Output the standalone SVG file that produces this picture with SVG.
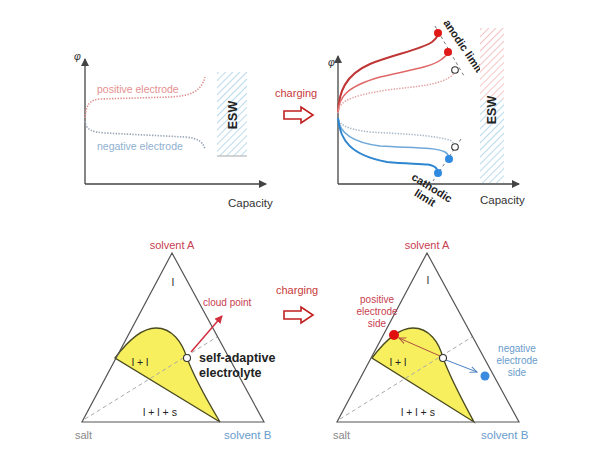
<svg xmlns="http://www.w3.org/2000/svg" width="595" height="451" viewBox="0 0 595 451">
<defs>
<style>
text{font-family:"Liberation Sans",Arial,sans-serif}
.ax{stroke:#444;stroke-width:1.3;fill:none}
.lab{font-size:11.5px;fill:#333}
.esw{font-size:12.5px;font-weight:bold;fill:#222}
.tri{stroke:#555;stroke-width:1.2;fill:none}
.yel{fill:#f7ef5e;stroke:#4a4a20;stroke-width:1.3}
.dash{stroke:#aaa;stroke-width:1;stroke-dasharray:4 3;fill:none}
.ph{font-size:10.5px;fill:#222;text-anchor:middle}
.red{fill:#c8404f}
.blu{fill:#6a9ccc}
.open{fill:#fff;stroke:#333;stroke-width:1.1}
.lim{font-size:11px;font-weight:bold;fill:#222}
</style>
<pattern id="hb" width="5" height="5" patternUnits="userSpaceOnUse" patternTransform="rotate(45)">
<rect width="5" height="5" fill="#fff"/><line x1="0" y1="0" x2="0" y2="5" stroke="#a9d2ea" stroke-width="1.6"/>
</pattern>
<pattern id="hr" width="5" height="5" patternUnits="userSpaceOnUse" patternTransform="rotate(45)">
<rect width="5" height="5" fill="#fff"/><line x1="0" y1="0" x2="0" y2="5" stroke="#f2b8b8" stroke-width="1.6"/>
</pattern>
<marker id="ah" markerWidth="8" markerHeight="8" refX="7" refY="4" orient="auto" markerUnits="userSpaceOnUse">
<path d="M0,0 L8,4 L0,8 Z" fill="#444"/>
</marker>
<marker id="ar" markerWidth="8" markerHeight="8" refX="7" refY="4" orient="auto" markerUnits="userSpaceOnUse">
<path d="M0,0 L8,4 L0,8 Z" fill="#d03040"/>
</marker>
<marker id="arb" markerWidth="8" markerHeight="8" refX="7" refY="4" orient="auto" markerUnits="userSpaceOnUse">
<path d="M0,1 L7,4 L0,7" fill="none" stroke="#b05040" stroke-width="1"/>
</marker>
<marker id="abl" markerWidth="8" markerHeight="8" refX="7" refY="4" orient="auto" markerUnits="userSpaceOnUse">
<path d="M0,1 L7,4 L0,7" fill="none" stroke="#4a80c0" stroke-width="1"/>
</marker>
<polygon id="bigarrow" points="0,-4 17,-4 17,-8 29,0 17,8 17,4 0,4" fill="#fff" stroke="#c02020" stroke-width="1.6"/>
</defs>
<rect width="595" height="451" fill="#fff"/>

<!-- top-left plot -->
<g id="plot-before">
<line class="ax" x1="85" y1="184" x2="85" y2="59" marker-end="url(#ah)"/>
<line class="ax" x1="85" y1="184" x2="266" y2="184" marker-end="url(#ah)"/>
<text x="74" y="60" style="font-size:10.5px;font-style:italic;fill:#333">φ</text>
<path d="M85,118 C86,104 90,100 100,99 L170,97 C190,96 201,92 205,77" fill="none" stroke="#e09090" stroke-width="1.6" stroke-dasharray="1.4 1.4"/>
<path d="M85,121 C86,130 92,132 105,133 L185,137 C198,138 203,142 205,149" fill="none" stroke="#9aa6b6" stroke-width="1.6" stroke-dasharray="1.4 1.4"/>
<text x="97" y="93" style="font-size:10.5px;fill:#e59090">positive electrode</text>
<text x="97" y="150" style="font-size:10.5px;fill:#90b0d0">negative electrode</text>
<rect x="217" y="72" width="30" height="84" fill="url(#hb)"/>
<line x1="217" y1="156" x2="247" y2="156" stroke="#aaa" stroke-width="1"/>
<text class="esw" transform="translate(237,115) rotate(-90)" text-anchor="middle">ESW</text>
<text class="lab" x="228" y="207">Capacity</text>
</g>

<!-- charging arrow top -->
<g id="charging-top">
<text x="275" y="97" style="font-size:11px;fill:#c83a3a">charging</text>
<use href="#bigarrow" transform="translate(284,115)"/>
</g>

<!-- top-right plot -->
<g id="plot-after">
<line class="ax" x1="338" y1="184" x2="338" y2="56" marker-end="url(#ah)"/>
<line class="ax" x1="338" y1="184" x2="519" y2="184" marker-end="url(#ah)"/>
<text x="328" y="66" style="font-size:10.5px;font-style:italic;fill:#333">φ</text>
<path d="M338,112 C339,92 345,75 370,64 C395,54 420,50 432,42 C437,38 438,35 438,33" fill="none" stroke="#c03535" stroke-width="2"/>
<path d="M338,112 C339,98 345,87 380,77 C410,70 432,67 442,59 C446,56 448,54 448,52" fill="none" stroke="#e06868" stroke-width="1.6"/>
<path d="M338,113 C339,104 342,97 387,90 C420,86 438,85 450,77 C453,75 455,72 455,70" fill="none" stroke="#e3a0a0" stroke-width="1.5" stroke-dasharray="1.4 1.4"/>
<path d="M338,118 C339,124 345,129 370,132 C400,134 425,134 450,140 C453,142 455,145 455,147" fill="none" stroke="#a8b8c8" stroke-width="1.5" stroke-dasharray="1.4 1.4"/>
<path d="M338,118 C339,130 348,142 380,146 C410,148 435,147 445,152 C448,154 449,157 449,159" fill="none" stroke="#6ea8d8" stroke-width="1.6"/>
<path d="M338,118 C340,140 350,155 387,162 C415,165 430,162 436,168 C438,170 438,172 438,173" fill="none" stroke="#2f86d0" stroke-width="2"/>
<line x1="435" y1="26" x2="464" y2="76" stroke="#777" stroke-width="1" stroke-dasharray="3 3"/>
<line x1="461" y1="139" x2="433" y2="181" stroke="#777" stroke-width="1" stroke-dasharray="3 3"/>
<circle cx="438" cy="33" r="4" fill="#e01818"/>
<circle cx="448" cy="52" r="4" fill="#e01818"/>
<circle cx="455" cy="70" r="3.3" class="open"/>
<circle cx="455" cy="147" r="3.3" class="open"/>
<circle cx="449" cy="159" r="4" fill="#2f8ae0"/>
<circle cx="438" cy="173" r="4" fill="#2f8ae0"/>
<text class="lim" transform="translate(460,48) rotate(56)" text-anchor="middle">anodic limit</text>
<text class="lim" transform="translate(430,191) rotate(32)" text-anchor="middle">cathodic</text>
<text class="lim" transform="translate(423,201) rotate(32)" text-anchor="middle">limit</text>
<rect x="480" y="28" width="24" height="72" fill="url(#hr)"/>
<rect x="480" y="100" width="24" height="83" fill="url(#hb)"/>
<text class="esw" transform="translate(496,110) rotate(-90)" text-anchor="middle">ESW</text>
<text class="lab" x="480" y="204">Capacity</text>
</g>

<!-- bottom-left ternary -->
<g id="ternary-before">
<path class="yel" d="M115,358 C130,338 143,328 156,328 C172,328 182,342 187,358 C196,382 210,405 220,422 Z"/>
<line class="dash" x1="85" y1="419" x2="217" y2="337"/>
<polygon class="tri" points="172,253 82,422 264,422"/>
<circle cx="187" cy="358" r="3.5" class="open"/>
<text class="red" x="172" y="249" text-anchor="middle" style="font-size:11px">solvent A</text>
<text x="75" y="439" style="font-size:11px;fill:#888">salt</text>
<text class="blu" x="224" y="439" style="font-size:11.5px">solvent B</text>
<text class="ph" x="173" y="286">l</text>
<text class="ph" x="140" y="366">l + l</text>
<text class="ph" x="160" y="416">l + l + s</text>
<line x1="191" y1="352" x2="222" y2="316" stroke="#d03040" stroke-width="1.5" marker-end="url(#ar)"/>
<text class="red" x="203" y="306" style="font-size:10px">cloud point</text>
<text x="199" y="362" style="font-size:12.5px;font-weight:bold;fill:#222">self-adaptive</text>
<text x="199" y="377" style="font-size:12.5px;font-weight:bold;fill:#222">electrolyte</text>
</g>

<!-- charging arrow bottom -->
<g id="charging-bottom">
<text x="276" y="294" style="font-size:11px;fill:#c83a3a">charging</text>
<use href="#bigarrow" transform="translate(284,315)"/>
</g>

<!-- bottom-right ternary -->
<g id="ternary-after">
<path class="yel" d="M372,358 C387,338 400,328 413,328 C429,328 439,342 443,358 C452,382 465,405 474,422 Z"/>
<line class="dash" x1="340" y1="419" x2="472" y2="337"/>
<polygon class="tri" points="427,253 337,422 519,422"/>
<text class="red" x="427" y="249" text-anchor="middle" style="font-size:11px">solvent A</text>
<text x="333" y="439" style="font-size:11px;fill:#888">salt</text>
<text class="blu" x="481" y="439" style="font-size:11.5px">solvent B</text>
<text class="ph" x="428" y="284">l</text>
<text class="ph" x="398" y="366">l + l</text>
<text class="ph" x="418" y="416">l + l + s</text>
<line x1="440" y1="356" x2="399" y2="338" stroke="#b05040" stroke-width="1" marker-end="url(#arb)"/>
<line x1="446" y1="360" x2="477" y2="372" stroke="#4a80c0" stroke-width="1" marker-end="url(#abl)"/>
<circle cx="443" cy="358" r="3.5" class="open"/>
<circle cx="394" cy="335" r="5" fill="#e01010"/>
<circle cx="485" cy="376" r="4.5" fill="#3a8ae0"/>
<g class="red" style="font-size:10px" text-anchor="middle">
<text x="377" y="303">positive</text>
<text x="377" y="315">electrode</text>
<text x="377" y="327">side</text>
</g>
<g class="blu" style="font-size:10px" text-anchor="middle">
<text x="517" y="352">negative</text>
<text x="517" y="364">electrode</text>
<text x="517" y="376">side</text>
</g>
</g>
</svg>
